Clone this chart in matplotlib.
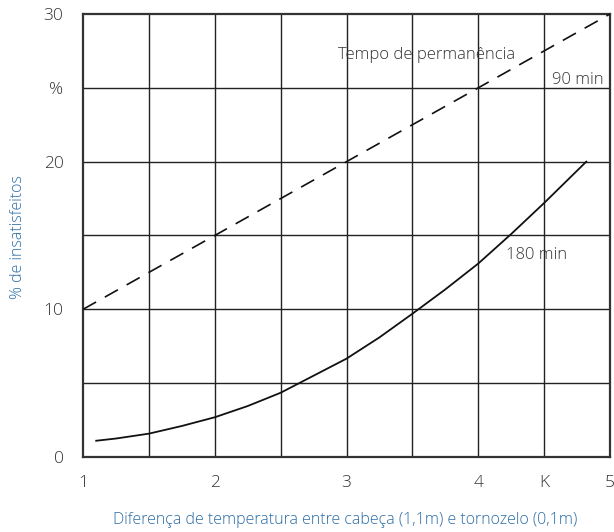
import matplotlib.pyplot as plt

# Dados
x_90 = [1, 5]
y_90 = [10, 30]

x_180 = [1.1, 1.25, 1.5, 1.75, 2.0, 2.25, 2.5, 3.0, 3.25, 3.5, 3.75, 4.0, 4.25, 4.5, 4.82]
y_180 = [1.1, 1.25, 1.58, 2.1, 2.69, 3.45, 4.35, 6.66, 8.1, 9.7, 11.35, 13.1, 15.1, 17.2, 20.0]

x_ticks = [1, 2, 3, 4, 4.5, 5]
x_labels = ['1', '2', '3', '4', 'K', '5']
y_ticks = [0, 10, 20, 25, 30]
y_labels = ['0', '10', '20', '%', '30']

plt.rcParams['font.family'] = ['Open Sans', 'DejaVu Sans']
plt.rcParams['font.weight'] = 'light'
gray = '#333333'
blue = '#2b6ca6'

fig = plt.figure(figsize=(6.14, 5.32), dpi=100)
ax = fig.add_axes([0.1352, 0.141, 0.8583, 0.8327])

# grade
for xv in [1.5, 2, 2.5, 3, 3.5, 4, 4.5]:
    ax.axvline(xv, color='#222222', lw=1.0, zorder=1)
for yv in [5, 10, 15, 20, 25]:
    ax.axhline(yv, color='#222222', lw=1.0, zorder=1)

ax.plot(x_90, y_90, color='#111111', lw=1.2, dashes=(9, 6), zorder=3)
ax.plot(x_180, y_180, color='#111111', lw=1.3, zorder=3)

ax.set_xlim(1, 5)
ax.set_ylim(0, 30)
ax.set_xticks(x_ticks)
ax.set_xticklabels(x_labels)
ax.set_yticks(y_ticks)
ax.set_yticklabels(y_labels)
ax.tick_params(length=0, labelsize=12.5, colors=gray)
ax.tick_params(axis='x', pad=13)
ax.tick_params(axis='y', pad=14)
for s in ax.spines.values():
    s.set_color('#333333')
    s.set_linewidth(1.6)

ax.text(3.61, 27.2, 'Tempo de permanência', fontsize=12, color=gray, ha='center', va='center',
        zorder=2)
ax.text(4.95, 25.5, '90 min', fontsize=12, color=gray, ha='right', va='center', zorder=2)
ax.text(4.21, 13.7, '180 min', fontsize=12, color=gray, ha='left', va='center', zorder=2)

fig.text(0.03, 0.554, '% de insatisfeitos', rotation=90, fontsize=11.5, color=blue,
         ha='center', va='center')
fig.text(0.563, 0.022, 'Diferença de temperatura entre cabeça (1,1m) e tornozelo (0,1m)',
         fontsize=11.5, color=blue, ha='center', va='center')

fig.savefig('out.png', dpi=100)
